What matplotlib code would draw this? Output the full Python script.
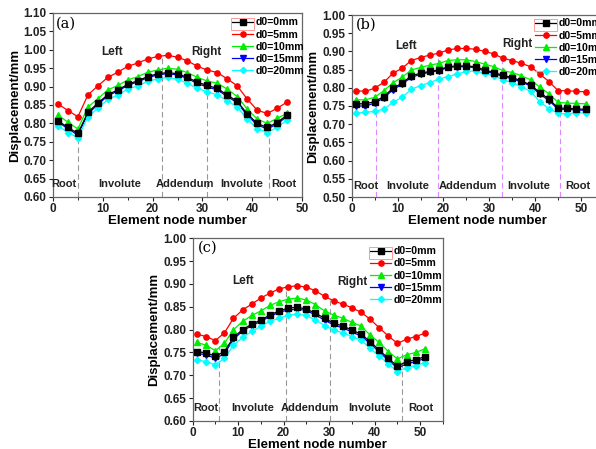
import numpy as np
import matplotlib.pyplot as plt
from matplotlib.patches import Rectangle
from matplotlib.ticker import MultipleLocator, FormatStrFormatter

plt.rcParams['font.family'] = ['Liberation Sans', 'DejaVu Sans']
plt.rcParams['font.weight'] = 'bold'

# ---- data ----
labels = ['d0=0mm', 'd0=5mm', 'd0=10mm', 'd0=15mm', 'd0=20mm']

nodes_a = list(range(1, 48, 2))
a_0 = [0.807, 0.789, 0.773, 0.830, 0.855, 0.878, 0.891, 0.906, 0.916, 0.927, 0.935, 0.938,
       0.935, 0.925, 0.912, 0.903, 0.895, 0.877, 0.860, 0.826, 0.800, 0.789, 0.802, 0.823]
a_5 = [0.853, 0.835, 0.818, 0.877, 0.902, 0.925, 0.939, 0.955, 0.964, 0.975, 0.982, 0.985,
       0.980, 0.970, 0.955, 0.945, 0.938, 0.921, 0.902, 0.866, 0.836, 0.827, 0.841, 0.858]
a_10 = [0.823, 0.803, 0.785, 0.844, 0.867, 0.891, 0.903, 0.918, 0.927, 0.939, 0.945, 0.950,
        0.947, 0.938, 0.925, 0.915, 0.909, 0.893, 0.873, 0.839, 0.812, 0.800, 0.814, 0.827]
a_15 = [0.803, 0.786, 0.768, 0.826, 0.851, 0.875, 0.888, 0.903, 0.913, 0.924, 0.932, 0.935,
        0.932, 0.922, 0.908, 0.899, 0.891, 0.873, 0.856, 0.822, 0.796, 0.785, 0.798, 0.819]
a_20 = [0.794, 0.775, 0.761, 0.818, 0.841, 0.865, 0.877, 0.893, 0.902, 0.914, 0.921, 0.925,
        0.920, 0.909, 0.895, 0.886, 0.877, 0.862, 0.844, 0.812, 0.786, 0.775, 0.789, 0.809]

nodes_b = list(range(1, 52, 2))
b_0 = [0.756, 0.756, 0.762, 0.776, 0.799, 0.813, 0.833, 0.840, 0.845, 0.849, 0.858, 0.860, 0.860,
       0.858, 0.849, 0.842, 0.834, 0.828, 0.819, 0.808, 0.787, 0.769, 0.744, 0.744, 0.742, 0.741]
b_5 = [0.792, 0.790, 0.799, 0.815, 0.840, 0.854, 0.875, 0.883, 0.890, 0.895, 0.904, 0.908, 0.908,
       0.906, 0.900, 0.893, 0.881, 0.875, 0.867, 0.858, 0.838, 0.817, 0.792, 0.792, 0.790, 0.789]
b_10 = [0.767, 0.767, 0.774, 0.792, 0.814, 0.829, 0.849, 0.856, 0.862, 0.867, 0.875, 0.877, 0.877,
        0.872, 0.865, 0.858, 0.847, 0.842, 0.833, 0.822, 0.802, 0.783, 0.760, 0.758, 0.757, 0.756]
b_15 = [0.750, 0.750, 0.758, 0.772, 0.795, 0.810, 0.829, 0.837, 0.843, 0.847, 0.856, 0.858, 0.858,
        0.855, 0.846, 0.839, 0.831, 0.825, 0.816, 0.805, 0.783, 0.765, 0.741, 0.741, 0.739, 0.738]
b_20 = [0.730, 0.733, 0.735, 0.741, 0.760, 0.774, 0.796, 0.806, 0.814, 0.824, 0.831, 0.838, 0.845,
        0.846, 0.840, 0.833, 0.822, 0.814, 0.803, 0.790, 0.762, 0.742, 0.730, 0.728, 0.732, 0.730]

nodes_c = list(range(1, 52, 2))
c_0 = [0.752, 0.749, 0.742, 0.752, 0.783, 0.800, 0.812, 0.821, 0.832, 0.841, 0.847, 0.849, 0.845,
       0.836, 0.825, 0.814, 0.808, 0.799, 0.790, 0.774, 0.755, 0.737, 0.720, 0.730, 0.734, 0.741]
c_5 = [0.790, 0.785, 0.776, 0.793, 0.825, 0.843, 0.856, 0.869, 0.880, 0.889, 0.894, 0.896, 0.893,
       0.885, 0.873, 0.863, 0.856, 0.848, 0.838, 0.823, 0.804, 0.786, 0.770, 0.779, 0.785, 0.792]
c_10 = [0.772, 0.766, 0.754, 0.770, 0.800, 0.818, 0.831, 0.841, 0.853, 0.861, 0.867, 0.869, 0.865,
        0.855, 0.841, 0.832, 0.825, 0.816, 0.808, 0.788, 0.772, 0.752, 0.736, 0.745, 0.750, 0.758]
c_15 = [0.748, 0.745, 0.737, 0.747, 0.779, 0.797, 0.809, 0.818, 0.829, 0.838, 0.843, 0.845, 0.842,
        0.832, 0.821, 0.810, 0.804, 0.795, 0.786, 0.770, 0.751, 0.733, 0.716, 0.725, 0.730, 0.737]
c_20 = [0.734, 0.730, 0.723, 0.737, 0.766, 0.783, 0.796, 0.807, 0.818, 0.825, 0.832, 0.834, 0.831,
        0.821, 0.809, 0.799, 0.793, 0.785, 0.777, 0.759, 0.742, 0.725, 0.708, 0.717, 0.721, 0.728]

regions = ['Root', 'Involute', 'Addendum', 'Involute', 'Root']
region_x_a = [2.2, 13.4, 26.6, 37.8, 46.4]
region_x_b = [3.1, 12.2, 25.4, 38.6, 49.2]
region_x_c = [2.9, 13.3, 25.9, 38.8, 50.1]

bounds_a = [5.1, 21.9, 30.9, 43.4]
bound_top_a = [0.765, 0.982, 0.955, 0.775]
bounds_b = [5.2, 18.9, 32.8, 45.4]
bound_top_b = [0.78, 0.905, 0.885, 0.79]
bounds_c = [5.8, 20.6, 30.2, 46.0]
bound_top_c = [0.765, 0.894, 0.865, 0.765]

colors = ['black', '#ff0000', '#00ee00', '#0000ff', '#00ffff']
markers = ['s', 'o', '^', 'v', 'D']
zord = [7, 3, 4, 5, 6]

W, H = 596, 449
fig = plt.figure(figsize=(W / 100, H / 100), dpi=100)


def px_axes(left, right, top, bottom):
    return fig.add_axes([left / W, 1 - bottom / H, (right - left) / W, (bottom - top) / H])


def panel(ax, nodes, series, ylim, yrange_text, tag, reg_x, bounds, tops, lcolor,
          lr_pos, legend_xy):
    for i, ys in enumerate(series):
        ax.plot(nodes, ys, color=colors[i], marker=markers[i], ms=3.8 if markers[i] != 'D' else 3.2,
                lw=0.9, label=labels[i], zorder=zord[i])
    ax.vlines(bounds, ylim[0], tops, colors=lcolor, linestyles=(0, (5, 3)), lw=0.8, zorder=1)
    ax.set_ylim(*ylim)
    ax.yaxis.set_major_locator(MultipleLocator(0.05))
    ax.yaxis.set_major_formatter(FormatStrFormatter('%.2f'))
    ax.xaxis.set_major_locator(MultipleLocator(10))
    ax.xaxis.set_minor_locator(MultipleLocator(5))
    ax.tick_params(labelsize=8.5, length=3, width=0.8, pad=1.5, colors='#222222')
    ax.tick_params(which='minor', length=2, width=0.6)
    for lab in ax.get_xticklabels() + ax.get_yticklabels():
        lab.set_fontweight('bold')
    for s in ax.spines.values():
        s.set_color('#666666')
        s.set_linewidth(0.9)
    ax.set_xlabel('Element node number', fontsize=9.5, fontweight='bold', labelpad=0)
    ax.set_ylabel('Displacement/mm', fontsize=9.5, fontweight='bold', labelpad=2)
    for name, xv in zip(regions, reg_x):
        ax.text(xv, yrange_text, name, fontsize=8, fontweight='bold', ha='center', va='center',
                color='#222222')
    ax.text(lr_pos[0][0], lr_pos[0][1], 'Left', fontsize=8.5, fontweight='bold', ha='center',
            va='center', color='#222222')
    ax.text(lr_pos[1][0], lr_pos[1][1], 'Right', fontsize=8.5, fontweight='bold', ha='center',
            va='center', color='#222222')
    ax.text(tag[1], tag[2], tag[0], fontsize=10.5, family='DejaVu Serif', fontweight='normal',
            ha='center', va='center')
    ax.legend(loc='upper left', bbox_to_anchor=legend_xy, frameon=False,
              handlelength=2.0, handletextpad=0.25, labelspacing=0.2, borderaxespad=0,
              borderpad=0, prop={'weight': 'bold', 'size': 7.6})
    # pale box around the first legend handle, as in the original
    bb = ax.get_window_extent()
    w_ax, h_ax = bb.width, bb.height
    ax.add_patch(Rectangle((legend_xy[0] - 1 / w_ax, legend_xy[1] - 12.5 / h_ax),
                           23 / w_ax, 12 / h_ax, transform=ax.transAxes, fill=False,
                           edgecolor='#ff9999', lw=0.7, clip_on=False, zorder=8))


ax_a = px_axes(53, 302, 13, 197)
ax_a.set_xlim(0, 50)
panel(ax_a, nodes_a, [a_0, a_5, a_10, a_15, a_20], (0.60, 1.10), 0.636,
      ('(a)', 2.6, 1.07), region_x_a, bounds_a, bound_top_a, '#999999',
      [(11.8, 0.993), (30.8, 0.994)], (0.72, 1 - 4.5 / 184))

ax_b = px_axes(351.7, 604, 15, 197)
ax_b.set_xlim(0, 55)
panel(ax_b, nodes_b, [b_0, b_5, b_10, b_15, b_20], (0.50, 1.00), 0.529,
      ('(b)', 3.1, 0.973), region_x_b, bounds_b, bound_top_b, '#dd88ff',
      [(11.8, 0.916), (36.2, 0.92)], (0.727, 1 - 3.5 / 182))

ax_c = px_axes(192.5, 443, 238.3, 421)
ax_c.set_xlim(0, 55)
panel(ax_c, nodes_c, [c_0, c_5, c_10, c_15, c_20], (0.60, 1.00), 0.628,
      ('(c)', 3.4, 0.98), region_x_c, bounds_c, bound_top_c, '#999999',
      [(11.2, 0.907), (35.0, 0.904)], (0.709, 1 - 8 / 183))

fig.savefig('out.png', dpi=100)
